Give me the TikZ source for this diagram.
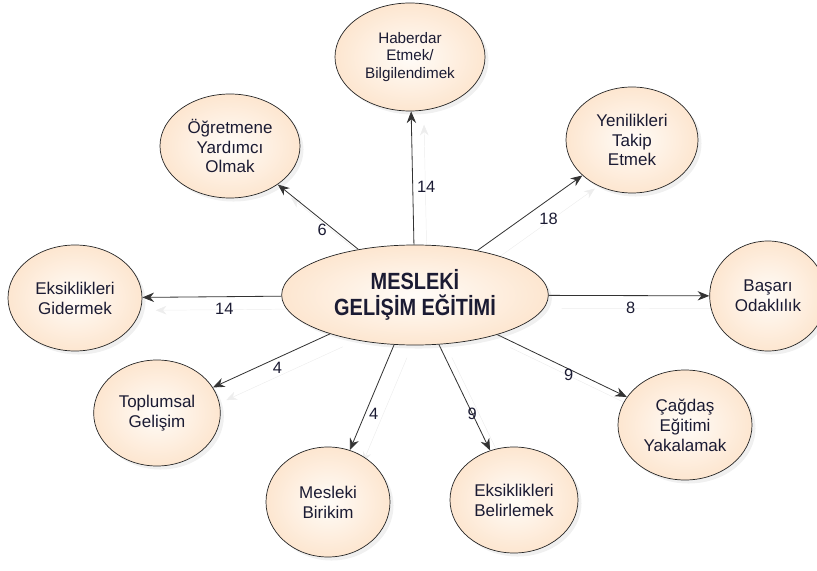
\documentclass[tikz,border=0pt]{standalone}
\usepackage{fontspec}
\setmainfont{Liberation Sans}
\newfontfamily\titlefont[FakeStretch=0.85]{Liberation Sans}
\usepackage{tikz}
\usetikzlibrary{shapes,arrows.meta,positioning,shadows,backgrounds}
\definecolor{peach}{HTML}{FDE6D0}
\definecolor{peachlight}{HTML}{FFFCF8}
\definecolor{txt}{HTML}{1B1B33}
\tikzstyle{goal} = [ellipse, draw=black!85, line width=0.6pt, inner color=peachlight, outer color=peach, drop shadow={opacity=0.12, shadow xshift=3pt, shadow yshift=-3pt}, minimum width=4cm, minimum height=3.2cm, inner sep=1pt, align=center, text=txt, font=\fontsize{14.5}{17}\selectfont]
\tikzstyle{hubgoal} = [goal, minimum width=8cm, minimum height=3cm, font=\titlefont\bfseries\fontsize{20}{22.5}\selectfont]
\tikzstyle{link} = [draw=black!80, line width=0.7pt, -{Stealth[length=10pt,width=8pt]}, preaction={draw=black!7, transform canvas={shift={(11pt,-11pt)}}}]
\tikzstyle{count} = [text=txt, font=\fontsize{14}{16}\selectfont]

\begin{document}
\begin{tikzpicture}[x=0.03cm, y=-0.03cm]
    \useasboundingbox (0,0) rectangle (817,571);
    \node[hubgoal] (hub) at (415,295) {MESLEKİ\\GELİŞİM EĞİTİMİ};
    \node[goal, minimum width=4.5cm, minimum height=3.24cm, font=\fontsize{13}{15}\selectfont] (inform) at (410,57) {Haberdar\\Etmek/\\Bilgilendimek};
    \node[goal, minimum width=4.2cm, minimum height=3.12cm] (assist) at (230,146) {Öğretmene\\Yardımcı\\Olmak};
    \node[goal, minimum width=3.96cm, minimum height=3.18cm] (follow) at (632,140) {Yenilikleri\\Takip\\Etmek};
    \node[goal, minimum width=4.02cm, minimum height=3.18cm] (fix) at (75,298) {Eksiklikleri\\Gidermek};
    \node[goal, minimum width=3.5cm, minimum height=3.3cm] (success) at (768,296) {Başarı\\Odaklılık};
    \node[goal, minimum width=3.8cm, minimum height=3.18cm] (society) at (157,413) {Toplumsal\\Gelişim};
    \node[goal, minimum width=3.72cm, minimum height=3.3cm] (stock) at (328,502) {Mesleki\\Birikim};
    \node[goal, minimum width=3.84cm, minimum height=3.18cm] (detect) at (514,500) {Eksiklikleri\\Belirlemek};
    \node[goal, minimum width=4.02cm, minimum height=3.3cm] (catchup) at (685,425) {Çağdaş\\Eğitimi\\Yakalamak};
    \begin{pgfonlayer}{background}
    \draw[link] (hub) -- node[count, pos=.43, right=0pt] {14} (inform);
    \draw[link] (hub) -- node[count, pos=.45, below=0pt] {6} (assist);
    \draw[link] (hub) -- node[count, pos=.55, below right=0pt] {18} (follow);
    \draw[link] (hub) -- node[count, pos=.41, below=2pt] {14} (fix);
    \draw[link] (hub) -- node[count, pos=.51, below=2pt] {8} (success);
    \draw[link] (hub) -- node[count, pos=.45, below=0pt] {4} (society);
    \draw[link] (hub) -- node[count, pos=.66, right=0pt] {4} (stock);
    \draw[link] (hub) -- node[count, pos=.65] {9} (detect);
    \draw[link] (hub) -- node[count, pos=.55, below, inner sep=0pt] {9} (catchup);
    \end{pgfonlayer}
\end{tikzpicture}
\end{document}
